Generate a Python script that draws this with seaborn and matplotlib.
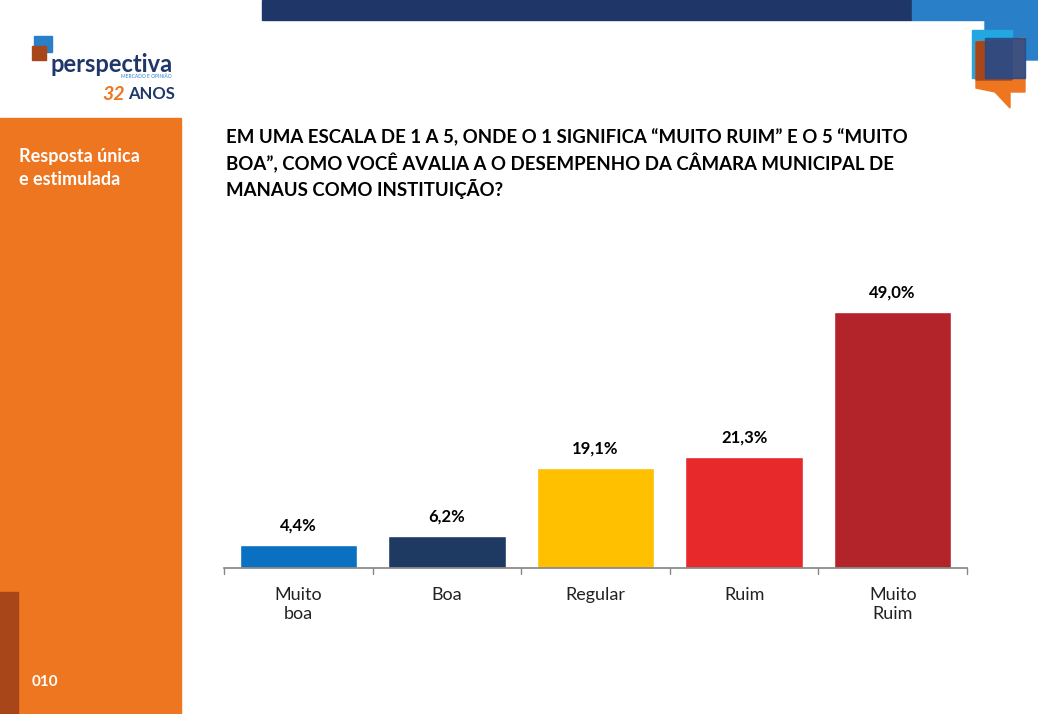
import matplotlib
matplotlib.use("Agg")
import matplotlib.pyplot as plt
import seaborn as sns
import pandas as pd
from matplotlib.patches import Rectangle, Polygon

categories = ["Muito\nboa", "Boa", "Regular", "Ruim", "Muito\nRuim"]
values = [4.4, 6.2, 19.1, 21.3, 49.0]
labels = ["4,4%", "6,2%", "19,1%", "21,3%", "49,0%"]
colors = ["#0A70C2", "#1E3A63", "#FFC000", "#E8292C", "#B3242A"]

sns.set_theme(style="white")
plt.rcParams['font.family'] = ['Lato', 'DejaVu Sans']

W, H = 1038, 714
fig = plt.figure(figsize=(W/100, H/100), dpi=100)

def fx(x): return x / W
def fy(y): return 1 - y / H

bg = fig.add_axes([0, 0, 1, 1]); bg.set_xlim(0, W); bg.set_ylim(H, 0); bg.axis("off")
bg.add_patch(Rectangle((0, 118), 181, 596, color="#EE7621"))
bg.add_patch(Rectangle((0, 592), 18, 122, color="#A8461A"))
bg.add_patch(Rectangle((262, 0), 650, 20, color="#1F3768"))
bg.add_patch(Rectangle((912, 0), 126, 20, color="#2A7FC9"))
bg.add_patch(Polygon([(985, 10), (1038, 0), (1038, 60), (985, 60)], color="#2A7FC9"))
bg.add_patch(Rectangle((972, 30), 40, 48, color="#23A7E0"))
bg.add_patch(Polygon([(976, 42), (1025, 38), (1025, 92), (1010, 92), (1010, 108), (995, 92), (976, 88)], color="#EE7621"))
bg.add_patch(Polygon([(976, 42), (1012, 40), (1012, 80), (976, 80)], color="#A8461A"))
bg.add_patch(Rectangle((985, 38), 40, 40, color="#1F4B90", alpha=0.85))
bg.add_patch(Rectangle((34, 36), 18, 16, color="#2A7FC9"))
bg.add_patch(Rectangle((32, 46), 14, 14, color="#A8461A"))
bg.text(50, 64, "perspectiva", color="#1F3768", fontsize=17, fontweight="bold", va="center")
bg.text(172, 77, "MERCADO E OPINIÃO", color="#2A7FC9", fontsize=3.5, va="center", ha="right")
bg.text(102, 94, "32", color="#EE7621", fontsize=14, fontweight="bold", fontstyle="italic", va="center")
bg.text(128, 94, "ANOS", color="#1F3768", fontsize=12, fontweight="bold", va="center")
bg.text(19, 168, "Resposta única\ne estimulada", color="white", fontsize=13, fontweight="bold", va="center", linespacing=1.4)
bg.text(32, 682, "010", color="white", fontsize=11, fontweight="bold", va="center")
bg.text(226, 164, "EM UMA ESCALA DE 1 A 5, ONDE O 1 SIGNIFICA “MUITO RUIM” E O 5 “MUITO\nBOA”, COMO VOCÊ AVALIA A O DESEMPENHO DA CÂMARA MUNICIPAL DE\nMANAUS COMO INSTITUIÇÃO?",
        color="black", fontsize=13.4, fontweight="bold", va="center", linespacing=1.35)

ax = fig.add_axes([fx(224), fy(568), fx(967 - 224), (568 - 280) / H])
df = pd.DataFrame({"cat": categories, "val": values})
sns.barplot(data=df, x="cat", y="val", hue="cat", palette=colors, legend=False, width=0.79, saturation=1, ax=ax)
ax.set_xlim(-0.5, 4.5)
ax.set_ylim(0, (568 - 280) / 5.22)
for i, (v, l) in enumerate(zip(values, labels)):
    ax.text(i, v + 2.2, l, ha="center", va="bottom", fontsize=12, fontweight="bold", color="black")
for s in ["top", "right", "left"]:
    ax.spines[s].set_visible(False)
ax.spines["bottom"].set_color("#888888")
ax.set_yticks([])
ax.set_xlabel(""); ax.set_ylabel("")
ax.tick_params(axis="x", length=0, pad=14, labelsize=13, labelcolor="#222222")
for b in [-0.5, 0.5, 1.5, 2.5, 3.5, 4.5]:
    ax.plot([b, b], [0, -1.2], color="#888888", lw=1, clip_on=False)

fig.savefig("out.png", dpi=100)
